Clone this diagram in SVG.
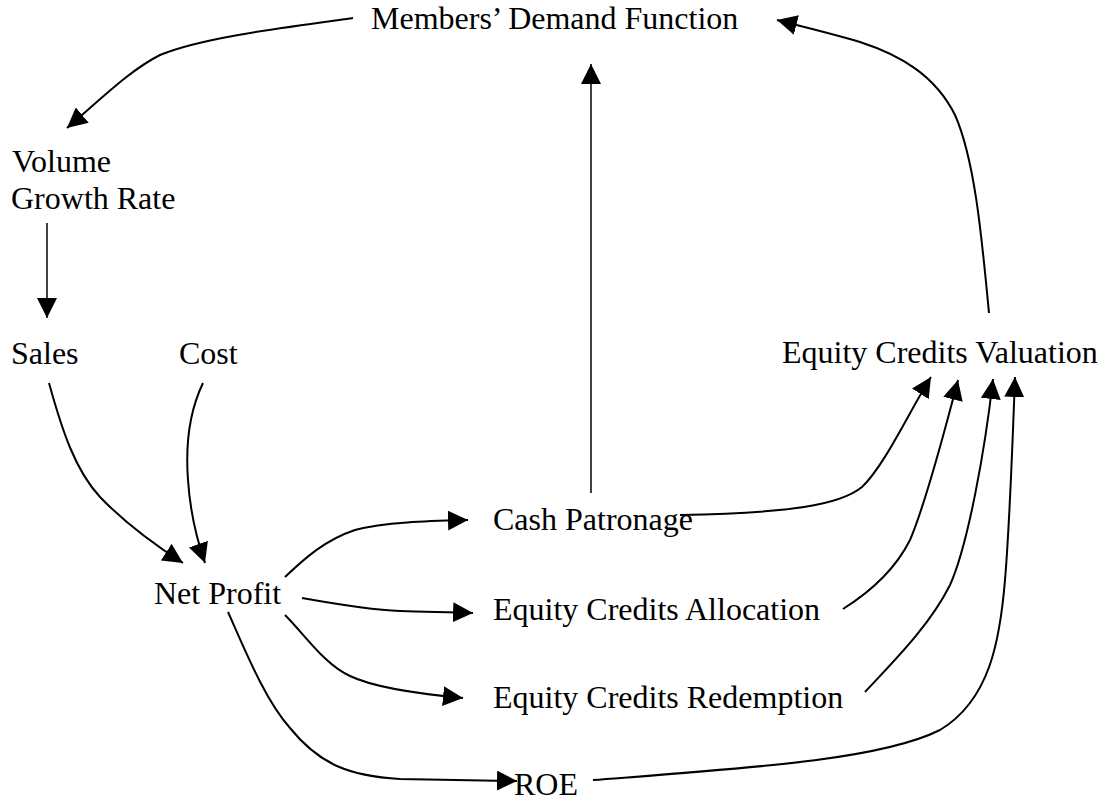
<svg xmlns="http://www.w3.org/2000/svg" width="1104" height="802" viewBox="0 0 1104 802">
<style>
text{font-family:"Liberation Serif","Times New Roman",serif;font-size:32px;fill:#000}
.c{fill:none;stroke:#000;stroke-width:2;marker-end:url(#ah)}
.s{fill:none;stroke:#000;stroke-width:1.5;marker-end:url(#ah)}
</style>
<defs>
<marker id="ah" markerUnits="userSpaceOnUse" markerWidth="20" markerHeight="20" refX="20" refY="10" orient="auto" viewBox="0 0 20 20">
<path d="M0,0 L20,10 L0,20 z" fill="#000"/>
</marker>
</defs>
<rect width="1104" height="802" fill="#fff"/>
<g id="connectors">
<path class="c" d="M353,18 C280,28 200,38 160,55 C130,70 100,100 67,128"/>
<path class="s" d="M47,223 L47,318"/>
<path class="c" d="M49,383 C62,430 75,470 100,497 C125,523 155,545 183,563"/>
<path class="c" d="M203,383 C190,410 185,440 188,480 C190,510 197,540 205,563"/>
<path class="s" d="M591,493 L591,64"/>
<path class="c" d="M989,313 C982,240 975,160 955,115 C935,75 900,55 860,42 C830,33 800,26 777,20"/>
<path class="c" d="M285,577 C305,558 325,540 355,530 C385,522 430,521 468,520"/>
<path class="c" d="M302,598 C330,603 370,610 400,611 C430,612 450,612 473,613"/>
<path class="c" d="M285,615 C305,635 325,665 350,676 C375,688 420,694 463,698"/>
<path class="c" d="M228,612 C245,650 265,700 290,728 C320,765 350,776 400,779 L517,781"/>
<path class="c" d="M680,515 C790,513 840,505 862,487 C885,465 910,410 931,377"/>
<path class="c" d="M843,609 C870,592 895,570 910,540 C925,505 945,430 958,380"/>
<path class="c" d="M865,692 C895,660 930,625 950,585 C968,545 985,450 993,379"/>
<path class="c" d="M593,780 C750,768 880,760 940,730 C990,700 1000,640 1005,580 C1010,520 1013,430 1015,377"/>
</g>
<g id="members-demand"><text x="371" y="29">Members’ Demand Function</text></g>
<g id="volume-growth"><text x="12" y="172">Volume</text><text x="11" y="209">Growth Rate</text></g>
<g id="sales"><text x="11" y="364">Sales</text></g>
<g id="cost"><text x="179" y="364">Cost</text></g>
<g id="ec-valuation"><text x="782" y="363">Equity Credits Valuation</text></g>
<g id="net-profit"><text x="154" y="604">Net Profit</text></g>
<g id="cash-patronage"><text x="493" y="530">Cash Patronage</text></g>
<g id="ec-allocation"><text x="493" y="620">Equity Credits Allocation</text></g>
<g id="ec-redemption"><text x="493" y="708">Equity Credits Redemption</text></g>
<g id="roe"><text x="514" y="795">ROE</text></g>
</svg>
